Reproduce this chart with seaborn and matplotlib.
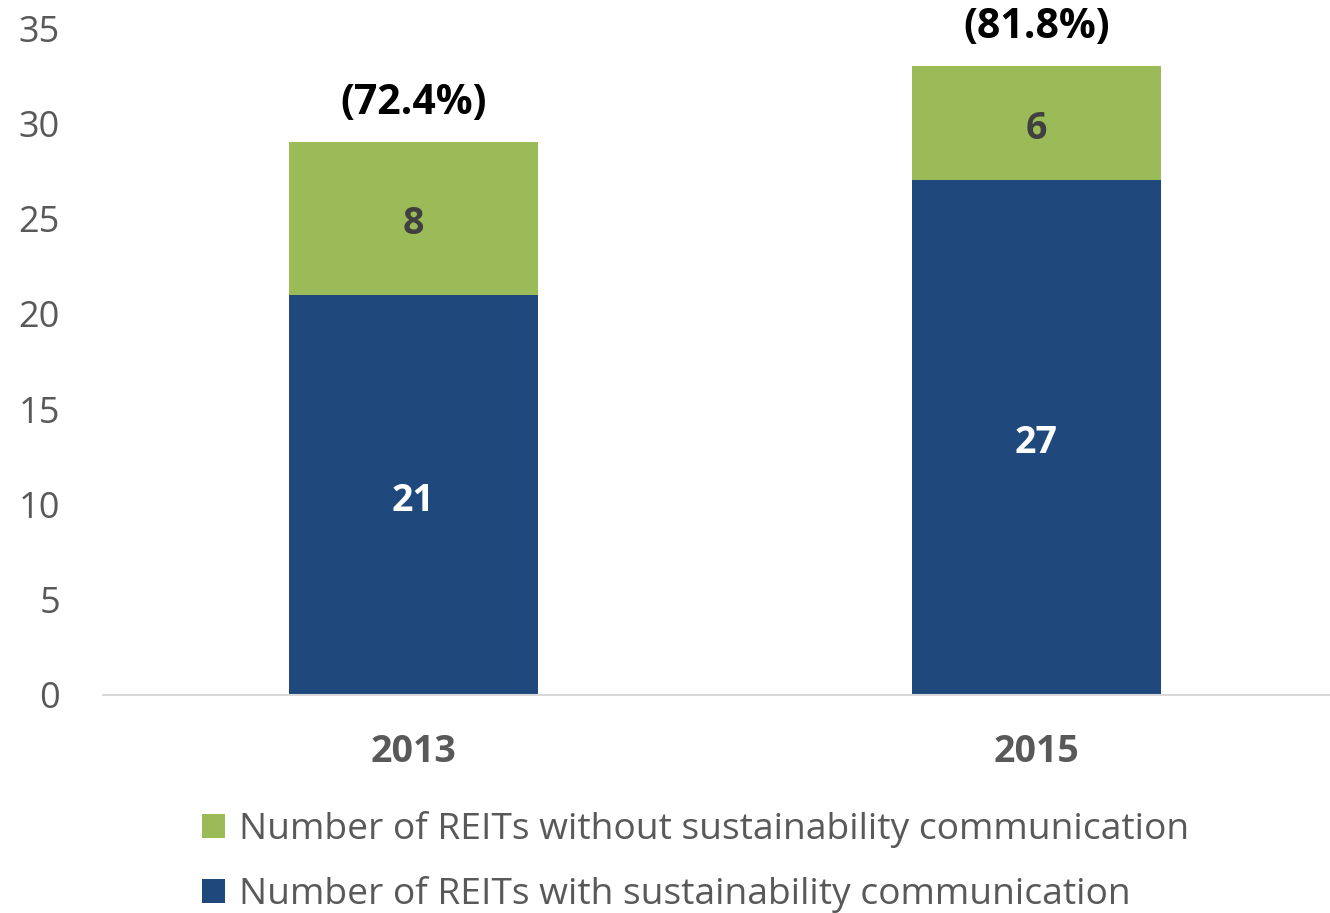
import matplotlib
matplotlib.use('Agg')
import matplotlib.pyplot as plt
import seaborn as sns
import pandas as pd
from matplotlib.patches import Patch

YEARS = ['2013', '2015']
WITH_COMM = [21, 27]
WITHOUT_COMM = [8, 6]
PCT_LABELS = ['(72.4%)', '(81.8%)']

LEGEND_WITHOUT = 'Number of REITs without sustainability communication'
LEGEND_WITH = 'Number of REITs with sustainability communication'

GREEN = '#9BBB59'
BLUE = '#1F497D'
GREY = '#595959'

sns.set_style('white')
plt.rcParams['font.family'] = ['Open Sans', 'DejaVu Sans']

df = pd.DataFrame({
    'year': YEARS,
    'with': WITH_COMM,
    'without': WITHOUT_COMM,
})
df['total'] = df['with'] + df['without']

fig = plt.figure(figsize=(13.3, 9.13), dpi=100)
ax = fig.add_axes([103 / 1330, 1 - 695 / 913, 1 - 103 / 1330, (695 - 28) / 913])

# Stacked bars: total in green, blue on top of it
sns.barplot(data=df, x='year', y='total', color=GREEN, width=0.4,
            saturation=1, ax=ax, linewidth=0)
sns.barplot(data=df, x='year', y='with', color=BLUE, width=0.4,
            saturation=1, ax=ax, linewidth=0)

ax.set_ylim(0, 35)
ax.set_xlim(-0.498, 1.471)
ax.set_yticks(range(0, 36, 5))
ax.set_xlabel('')
ax.set_ylabel('')

for s in ['top', 'right', 'left']:
    ax.spines[s].set_visible(False)
ax.spines['bottom'].set_color('#D9D9D9')
ax.spines['bottom'].set_linewidth(1.5)

ax.tick_params(axis='y', length=0, labelsize=26, labelcolor=GREY, pad=31)
ax.tick_params(axis='x', length=0, labelsize=27, labelcolor=GREY, pad=27)
for lbl in ax.get_xticklabels():
    lbl.set_fontweight('bold')

# Value labels
for i, row in df.iterrows():
    ax.text(i, row['with'] / 2 - 0.3, str(row['with']), ha='center',
            va='center', fontsize=27, fontweight='bold', color='white')
    ax.text(i, row['with'] + row['without'] / 2 - 0.3, str(row['without']),
            ha='center', va='center', fontsize=27, fontweight='bold',
            color='#404040')
    ax.text(i, row['total'] + 2.05, PCT_LABELS[i], ha='center', va='center',
            fontsize=29.5, fontweight='bold', color='black', clip_on=False)

handles = [Patch(facecolor=GREEN, edgecolor='none'),
           Patch(facecolor=BLUE, edgecolor='none')]
fig.legend(handles, [LEGEND_WITHOUT, LEGEND_WITH], loc='upper left',
           bbox_to_anchor=(202 / 1330, 1 - 811 / 913), frameon=False,
           fontsize=26.8, labelcolor=GREY, handlelength=0.62,
           handleheight=0.62, handletextpad=0.38, labelspacing=0.75,
           borderpad=0, borderaxespad=0)

fig.savefig('out.png', dpi=100)
